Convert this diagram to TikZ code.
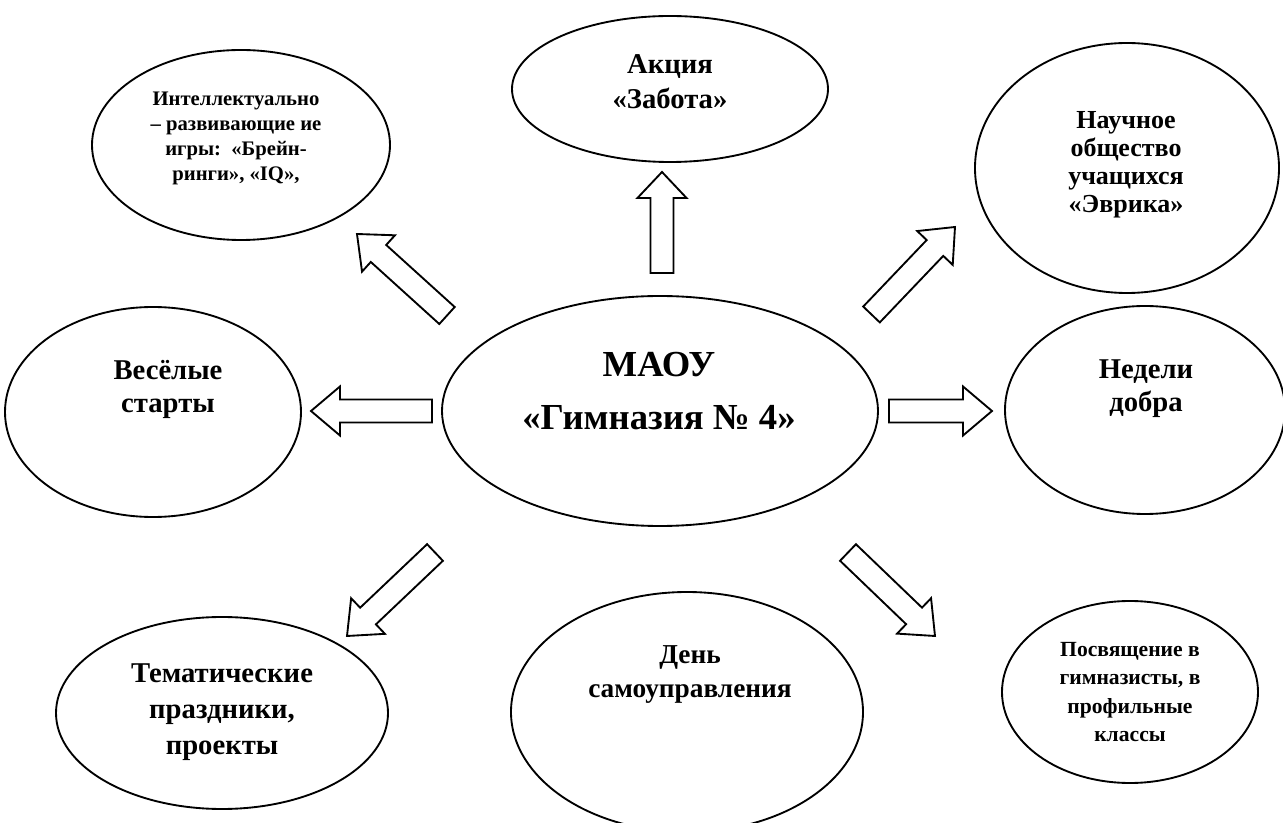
\documentclass[tikz,border=0pt]{standalone}
\usepackage{fontspec}
\setmainfont{Liberation Serif}
\usetikzlibrary{shapes.geometric,calc}
\newcommand{\blockarr}[3]{%
  \coordinate (H) at ($(#2)!#3!(#1)$);
  \draw[barrow] ($(#1)!8.6pt!90:(#2)$) -- ($(H)!8.6pt!90:(#2)$) -- ($(H)!18.4pt!90:(#2)$) -- (#2)
     -- ($(H)!18.4pt!-90:(#2)$) -- ($(H)!8.6pt!-90:(#2)$) -- ($(#1)!8.6pt!-90:(#2)$) -- cycle;}
\tikzset{
  oval/.style={ellipse, draw, line width=1.4pt, inner sep=0pt},
  txt/.style={align=center, inner sep=0pt, font=\bfseries},
  barrow/.style={draw, line width=1.4pt, line join=miter, fill=white}
}
\begin{document}
\begin{tikzpicture}[x=0.75pt,y=-0.75pt]
\useasboundingbox (0,0) rectangle (1283,823);
\fill[white] (0,0) rectangle (1283,823);
\begin{scope}
\clip (0,0) rectangle (1283,823);
% ellipses
\node[oval, minimum width=223.5pt, minimum height=142.5pt] (intel) at (241,145) {};
\node[oval, minimum width=237pt, minimum height=109.5pt] (akcia) at (670,89) {};
\node[oval, minimum width=228pt, minimum height=187.5pt] (nauch) at (1127,168) {};
\node[oval, minimum width=222pt, minimum height=157.5pt] (vesel) at (153,412) {};
\node[oval, minimum width=327pt, minimum height=172.5pt] (main) at (660,411) {};
\node[oval, minimum width=210pt, minimum height=156pt] (nedel) at (1145,410) {};
\node[oval, minimum width=249pt, minimum height=144pt] (temat) at (222,713) {};
\node[oval, minimum width=264pt, minimum height=180pt] (den) at (687,712) {};
\node[oval, minimum width=192pt, minimum height=136.5pt] (posv) at (1130,692) {};
\end{scope}
% texts
\node[txt, font=\bfseries\fontsize{15.5pt}{18.75pt}\selectfont] (tintel) at (236,138) {Интеллектуально\\– развивающие ие\\игры:\ \ «Брейн-\\ринги», «IQ»,};
\node[txt, font=\bfseries\fontsize{21.5pt}{26.25pt}\selectfont] (takcia) at (670,82) {Акция\\«Забота»};
\node[txt, font=\bfseries\fontsize{19.5pt}{21pt}\selectfont] (tnauch) at (1126,165) {Научное\\общество\\учащихся\\«Эврика»};
\node[txt, font=\bfseries\fontsize{21.5pt}{24.75pt}\selectfont] (tvesel) at (168,389) {Весёлые\\старты};
\node[txt, font=\bfseries\fontsize{27.5pt}{39.75pt}\selectfont] (tmain) at (659,391) {МАОУ\\«Гимназия № 4»};
\node[txt, font=\bfseries\fontsize{21.5pt}{24.75pt}\selectfont] (tnedel) at (1146,389) {Недели\\добра};
\node[txt, font=\bfseries\fontsize{21.5pt}{27pt}\selectfont] (ttemat) at (222,712) {Тематические\\праздники,\\проекты};
\node[txt, font=\bfseries\fontsize{20.5pt}{25.5pt}\selectfont] (tden) at (690,675) {День\\самоуправления};
\node[txt, font=\bfseries\fontsize{16.2pt}{21.4pt}\selectfont] (tposv) at (1130,692) {Посвящение в\\гимназисты, в\\профильные\\классы};
% arrows
\coordinate (upS) at (662,273); \coordinate (upT) at (662,172);
\coordinate (lS) at (432,411); \coordinate (lT) at (311,411);
\coordinate (rS) at (889,411); \coordinate (rT) at (992,411);
\coordinate (ulS) at (447,315.5); \coordinate (ulT) at (357,234);
\coordinate (urS) at (871.5,314.5); \coordinate (urT) at (955,227);
\coordinate (llS) at (435,552.5); \coordinate (llT) at (347,636);
\coordinate (lrS) at (848,552.5); \coordinate (lrT) at (935,636);
\blockarr{upS}{upT}{19.5pt}
\blockarr{lS}{lT}{21.75pt}
\blockarr{rS}{rT}{21.75pt}
\blockarr{ulS}{ulT}{21.75pt}
\blockarr{urS}{urT}{21.75pt}
\blockarr{llS}{llT}{21.75pt}
\blockarr{lrS}{lrT}{21.75pt}
\end{tikzpicture}
\end{document}
